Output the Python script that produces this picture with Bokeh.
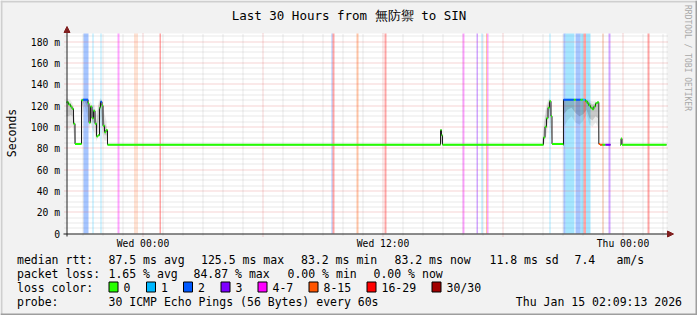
import math
from bokeh.plotting import figure
from bokeh.models import Range1d, ColumnDataSource
from bokeh.core.properties import value
from bokeh.embed import file_html
from bokeh.resources import INLINE

# ---------------- data ----------------
# time axis: hours relative to Wed 00:00, 30 hour window
T_START, T_END = -3.815, 26.185
Y_MAX = 187.5  # milliseconds

loss_labels = ["0", "1", "2", "3", "4-7", "8-15", "16-29", "30/30"]
loss_colors = ["#26ff00", "#00b8ff", "#0059ff", "#7e00ff",
               "#ff00ff", "#ff5500", "#ff0000", "#a10000"]

# loss background periods (hours) and loss category index
loss_start = [-2.965, -2.515, -2.115, -1.265, -0.415, -0.315, 0.835,
              9.435, 9.485, 10.685, 12.085, 15.985,
              16.685, 16.935, 17.16, 17.21, 20.335,
              21.035, 21.135, 21.635, 21.885, 22.035, 22.16,
              22.985, 23.285, 25.235]
loss_end = [-2.715, -2.465, -2.065, -1.165, -0.365, -0.265, 0.91,
            9.485, 9.585, 10.785, 12.185, 16.085,
            16.76, 16.985, 17.21, 17.285, 20.385,
            21.135, 21.585, 21.885, 22.035, 22.16, 22.385,
            23.035, 23.385, 25.335]
loss_cat = [2, 1, 1, 4, 5, 5, 6,
            2, 6, 5, 6, 4,
            3, 1, 5, 4, 1,
            2, 1, 2, 1, 6, 1,
            5, 3, 6]

# median rtt (ms) per step start, with loss category of that step
nan = float("nan")
median_h = [-3.815, -3.715, -3.615, -3.54, -3.465, -3.39, -3.065, -2.99, -2.74,
            -2.69, -2.615, -2.54, -2.465, -2.39, -2.315, -2.24, -2.165, -2.115,
            -2.04, -1.99, -1.915, -1.84, -1.765,
            14.885, 14.935, 14.985,
            20.035, 20.11, 20.185, 20.26, 20.335, 20.41, 20.46,
            21.01, 21.035, 21.55, 21.65, 21.885, 22.0, 22.135, 22.22, 22.3,
            22.385, 22.47, 22.55, 22.635, 22.72, 22.8, 22.86, 22.985, 23.135,
            23.385, 23.86, 23.91, 23.96, 26.185]
median_ms = [123, 121, 119, 117, 103, 84, 125, 125.5, 122,
             104, 119, 108, 115, 103, 91, 92, 118, 123.5,
             120, 101, 95, 97, 83.2,
             97, 92, 83.2,
             90, 100, 108, 118, 124, 110, 84,
             83.2, 125.5, 125.5, 125.5, 125.5, 125.5, 124, 122, 120,
             118, 116.5, 119, 122, 123, 84, 83.2, 83.2, 83.2,
             nan, 83.2, 89, 83.2, 83.2]
median_cat = [0, 0, 0, 0, 0, 0, 0, 2, 0,
              0, 0, 0, 0, 0, 0, 0, 0, 2,
              0, 0, 0, 0, 0,
              0, 0, 0,
              0, 0, 0, 0, 0, 0, 0,
              0, 2, 0, 2, 0, 1, 0, 0, 0,
              0, 0, 0, 0, 0, 5, 5, 0, 3,
              0, 0, 0, 0, 0]

# smoke (spread of the 30 pings): region id, hour, outer and inner bands
smoke_region = [0] * 22 + [1] * 5 + [2] * 8 + [3] * 13
smoke_h = [-3.815, -3.715, -3.615, -3.515, -3.465, -3.39, -3.34, -3.09, -3.065,
           -2.915, -2.74, -2.69, -2.615, -2.515, -2.415, -2.315, -2.215, -2.115,
           -2.015, -1.915, -1.815, -1.74,
           14.86, 14.885, 14.935, 14.985, 15.01,
           19.96, 20.035, 20.11, 20.185, 20.26, 20.335, 20.41, 20.485,
           21.01, 21.06, 21.235, 21.435, 21.635, 21.835, 22.035, 22.185, 22.335,
           22.485, 22.635, 22.76, 22.835]
smoke_hi = [127, 126, 125, 122, 119, 104, 85, 85, 127, 127, 127, 120, 124, 120,
            121, 112, 123, 127, 124, 112, 106, 84,
            83.5, 98, 98, 90, 83.5,
            84, 100, 114, 121, 125, 127, 123, 84,
            84, 126.5, 126.5, 126.5, 126.5, 126.5, 126.5, 126, 125, 124, 124, 123, 84]
smoke_lo = [98, 97, 99, 101, 94, 84, 83, 83, 108, 120, 108, 94, 104, 97, 95, 86,
            94, 108, 94, 87, 87, 83,
            83, 84, 84, 84, 83,
            83, 84, 86, 92, 100, 110, 92, 83,
            83, 100, 106, 110, 104, 102, 106, 112, 102, 100, 104, 100, 83]
smoke_hi2 = [125, 124, 122, 119, 116, 100, 84, 84, 126, 126, 125, 112, 121, 116,
             117, 104, 120, 125, 121, 104, 100, 83.5,
             83.2, 96, 95, 86, 83.2,
             84, 95, 108, 116, 122, 125, 118, 84,
             84, 126, 126, 126, 126, 126, 126, 125, 123, 121, 122, 122, 84]
smoke_lo2 = [110, 110, 111, 110, 102, 86, 83.5, 83.5, 118, 124, 118, 100, 112,
             104, 104, 90, 104, 118, 102, 92, 92, 83,
             83.2, 86, 86, 84, 83.2,
             83, 85, 90, 98, 108, 116, 98, 83,
             83, 112, 116, 118, 113, 110, 112, 116, 108, 106, 110, 108, 83]

y_ticks = [0, 20, 40, 60, 80, 100, 120, 140, 160, 180]
y_tick_labels = ["0", "20 m", "40 m", "60 m", "80 m", "100 m", "120 m",
                 "140 m", "160 m", "180 m"]
y_minor_step = 5
x_major_hours = [0, 6, 12, 18, 24]
x_label_hours = [0, 12, 24]
x_tick_labels = ["Wed 00:00", "Wed 12:00", "Thu 00:00"]

title_text = "Last 30 Hours from 無防禦 to SIN"
unit_text = "Seconds"
watermark_text = "RRDTOOL / TOBI OETIKER"
legend_rows = [
    [("median rtt:", 16.5), ("87.5 ms avg", 108), ("125.5 ms max", 200.5),
     ("83.2 ms min", 300.5), ("83.2 ms now", 394), ("11.8 ms sd", 489),
     ("7.4", 574), ("am/s", 616)],
    [("packet loss:", 16.5), ("1.65 % avg", 108), ("84.87 % max", 193),
     ("0.00 % min", 287), ("0.00 % now", 373)],
    [("loss color:", 16.5)],
    [("probe:", 16.5), ("30 ICMP Echo Pings (56 Bytes) every 60s", 108)],
]
stamp_text = "Thu Jan 15 02:09:13 2026"
swatch_left = [108, 145.5, 182.5, 220, 257, 308, 366, 431]

# ---------------- layout helpers (pixel -> data) ----------------
W, H = 697, 315
FL, FT, FW, FH = 66, 33, 600, 200
PX_H = (T_END - T_START) / FW     # hours per pixel
PX_MS = Y_MAX / FH                # ms per pixel


def X(px):
    return T_START + (px - FL) * PX_H


def Y(py):
    return (FT + FH - py) * PX_MS


def col_of(h):   # pixel column centre for an hour value
    return math.floor(FL + (h - T_START) / PX_H) + 0.5


def row_of(v):   # pixel row centre for a ms value
    return math.floor(FT + FH - v / PX_MS) + 0.5


MONO = "DejaVu Sans Mono"

# frame covers the whole canvas; the graph area is drawn inside it
p = figure(width=W, height=H, x_range=Range1d(X(0), X(W)),
           y_range=Range1d(Y(H), Y(0)), toolbar_location=None,
           output_backend="svg", x_axis_location=None, y_axis_location=None,
           min_border=0)
p.grid.visible = False
p.outline_line_color = None
p.background_fill_color = "#f2f2f2"
p.border_fill_color = "#f2f2f2"

# canvas of the graph
p.quad(left=T_START, right=T_END, bottom=0, top=Y_MAX, fill_color="white",
       line_color=None)

# grid (minor grey dotted, major red dotted), extending 2 px past the graph
minor_hours = [h for h in range(-3, 27) if h % 6 != 0]
minor_ms = [v for v in range(y_minor_step, 188, y_minor_step) if v % 20 != 0]
gx0 = X(FL - 2)
gx1 = X(FL + FW + 2)
p.segment(x0=gx0, x1=gx1, y0=[Y(row_of(v)) for v in minor_ms],
          y1=[Y(row_of(v)) for v in minor_ms], line_color="#8f8f8f",
          line_alpha=0.38, line_dash="1 1", line_width=1)
p.segment(x0=[X(col_of(h)) for h in minor_hours], x1=[X(col_of(h)) for h in minor_hours],
          y0=Y(FT + FH + 2), y1=Y_MAX, line_color="#8f8f8f",
          line_alpha=0.38, line_dash="1 1", line_width=1)

# loss background bars
p.quad(left=loss_start, right=loss_end, bottom=0, top=Y_MAX,
       fill_color=[loss_colors[c] for c in loss_cat], fill_alpha=0.35,
       line_color=None)

p.segment(x0=gx0, x1=gx1, y0=[Y(row_of(v)) for v in y_ticks[1:]],
          y1=[Y(row_of(v)) for v in y_ticks[1:]], line_color="#de4f4f",
          line_alpha=0.5, line_dash="1 1", line_width=1)
p.segment(x0=[X(col_of(h)) for h in x_major_hours], x1=[X(col_of(h)) for h in x_major_hours],
          y0=Y(FT + FH + 3), y1=Y_MAX, line_color="#de4f4f",
          line_alpha=0.5, line_dash="1 1", line_width=1)

# smoke
for r in sorted(set(smoke_region)):
    idx = [i for i, s in enumerate(smoke_region) if s == r]
    hs = [smoke_h[i] for i in idx]
    p.varea(x=hs, y1=[smoke_lo[i] for i in idx], y2=[smoke_hi[i] for i in idx],
            fill_color="black", fill_alpha=0.08)
    p.varea(x=hs, y1=[smoke_lo2[i] for i in idx], y2=[smoke_hi2[i] for i in idx],
            fill_color="black", fill_alpha=0.14)

# median: black step line (split at unknown values) + loss-coloured steps
run_h, run_m = [], []
runs = []
for h, m in zip(median_h, median_ms):
    if math.isnan(m):
        if run_h:
            runs.append((run_h + [h], run_m + [run_m[-1]]))
        run_h, run_m = [], []
    else:
        run_h.append(h)
        run_m.append(m)
if run_h:
    runs.append((run_h, run_m))
for rh, rm in runs:
    p.step(x=rh, y=rm, mode="after", line_color="#1f1f1f", line_width=1)

seg = dict(x0=[], x1=[], y=[], c=[])
for i in range(len(median_h) - 1):
    if math.isnan(median_ms[i]):
        continue
    seg["x0"].append(median_h[i])
    seg["x1"].append(median_h[i + 1])
    seg["y"].append(median_ms[i])
    seg["c"].append(loss_colors[median_cat[i]])
p.segment(x0="x0", x1="x1", y0="y", y1="y", line_color="c", line_width=2,
          source=ColumnDataSource(seg))

# axes with arrow heads
axis_col, arrow_col = "#1f1f1f", "#801f1f"
p.segment(x0=X(63), x1=X(668), y0=Y(233.5), y1=Y(233.5), line_color=axis_col,
          line_width=1)
p.segment(x0=X(66.5), x1=X(66.5), y0=Y(236), y1=Y(31), line_color=axis_col,
          line_width=1)
p.patch(x=[X(667), X(673), X(667)], y=[Y(230.5), Y(233.5), Y(236.5)],
        fill_color=arrow_col, line_color=arrow_col, line_width=1)
p.patch(x=[X(63.5), X(66.5), X(69.5)], y=[Y(32), Y(26), Y(32)],
        fill_color=arrow_col, line_color=arrow_col, line_width=1)

# tick labels
p.text(x=X(59.5), y=[Y(row_of(v)) for v in y_ticks], text=y_tick_labels,
       text_font=value(MONO), text_font_size=value("9.7px"), text_align="right",
       text_baseline="middle", text_color="black")
p.text(x=[X(col_of(h)) for h in x_label_hours], y=Y(242.5), text=x_tick_labels,
       text_font=value(MONO), text_font_size=value("9.7px"), text_align="center",
       text_baseline="middle", text_color="black")

# 3D frame of the canvas
p.segment(x0=[X(0), X(1)], x1=[X(697), X(1)], y0=[Y(1), Y(0)], y1=[Y(1), Y(315)],
          line_color="#cfcfcf", line_width=2)
p.segment(x0=[X(0), X(696)], x1=[X(697), X(696)], y0=[Y(314), Y(0)],
          y1=[Y(314), Y(315)], line_color="#9e9e9e", line_width=2)

# title, unit, watermark
p.text(x=[X(348.5)], y=[Y(15)], text=[title_text], text_font=value(MONO),
       text_font_size=value("12.5px"), text_align="center", text_baseline="middle")
p.text(x=[X(11)], y=[Y(132.5)], text=[unit_text], text_font=value(MONO),
       text_font_size=value("11.5px"), text_align="center", text_baseline="middle",
       angle=math.pi / 2)
p.text(x=[X(687)], y=[Y(57.5)], text=[watermark_text], text_font=value(MONO),
       text_font_size=value("8px"), text_align="center", text_baseline="middle",
       angle=-math.pi / 2, text_color="#a8a8a8")

# legend
row_y = [259.3, 273.3, 287.3, 301]
lx, ly, lt = [], [], []
for row, ry in zip(legend_rows, row_y):
    for txt, px in row:
        lx.append(X(px))
        ly.append(Y(ry))
        lt.append(txt)
for bx, lab in zip(swatch_left, loss_labels):
    lx.append(X(bx + 15))
    ly.append(Y(row_y[2]))
    lt.append(lab)
p.text(x=lx, y=ly, text=lt, text_font=value(MONO), text_font_size=value("11.5px"),
       text_baseline="middle", text_color="black")
p.text(x=[X(681.5)], y=[Y(row_y[3])], text=[stamp_text], text_font=value(MONO),
       text_font_size=value("11.5px"), text_baseline="middle", text_align="right")
p.quad(left=[X(bx + 0.5) for bx in swatch_left],
       right=[X(bx + 9.5) for bx in swatch_left],
       top=Y(281.5), bottom=Y(291.5), fill_color=loss_colors,
       line_color="black", line_width=1)

open("out.html", "w").write(file_html(p, INLINE))
